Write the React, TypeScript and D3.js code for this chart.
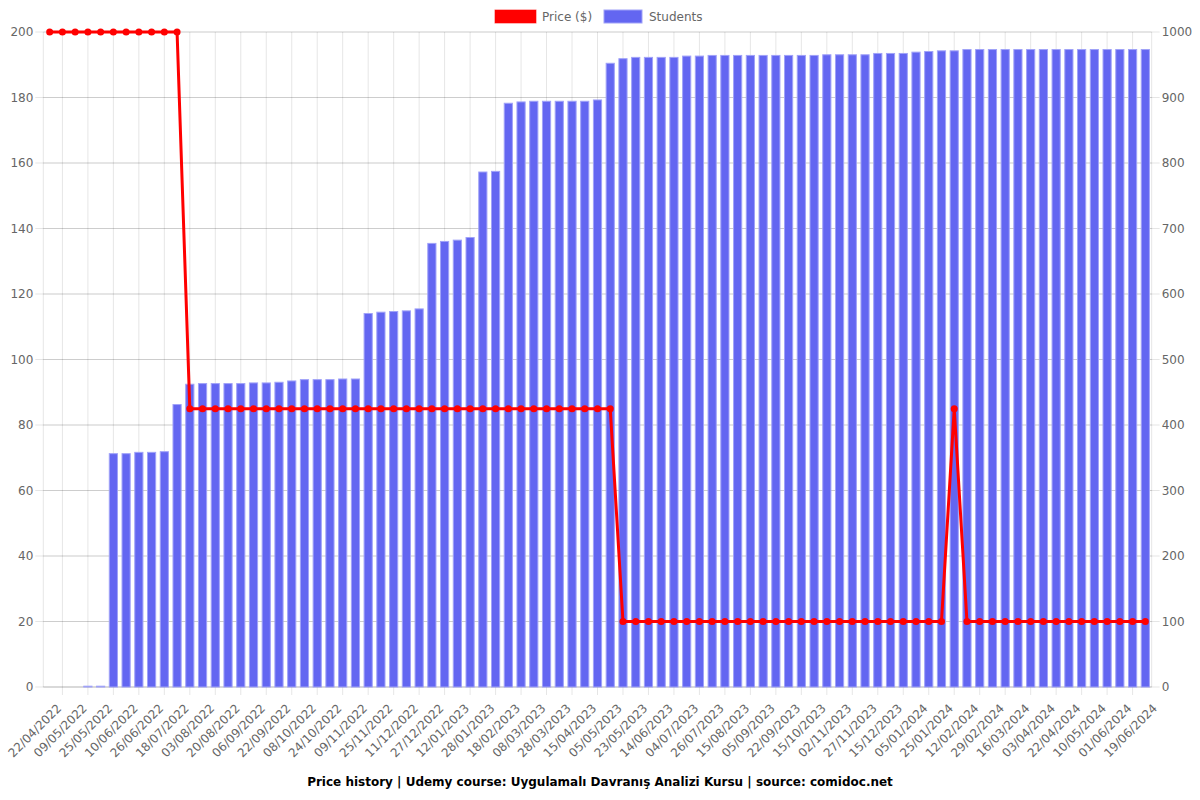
import React from "react";
import * as d3 from "d3";

const tickLabels = [
  "22/04/2022", "09/05/2022", "25/05/2022", "10/06/2022", "26/06/2022", "18/07/2022",
  "03/08/2022", "20/08/2022", "06/09/2022", "22/09/2022", "08/10/2022", "24/10/2022",
  "09/11/2022", "25/11/2022", "11/12/2022", "27/12/2022", "12/01/2023", "28/01/2023",
  "18/02/2023", "08/03/2023", "28/03/2023", "15/04/2023", "05/05/2023", "23/05/2023",
  "14/06/2023", "04/07/2023", "26/07/2023", "15/08/2023", "05/09/2023", "22/09/2023",
  "15/10/2023", "02/11/2023", "27/11/2023", "15/12/2023", "05/01/2024", "25/01/2024",
  "12/02/2024", "29/02/2024", "16/03/2024", "03/04/2024", "22/04/2024", "10/05/2024",
  "01/06/2024", "19/06/2024",
];

const students = [
  0, 0, 0, 2, 2, 357, 357, 359, 359, 360,
  432, 463, 464, 464, 464, 464, 465, 465, 466, 468,
  470, 470, 470, 471, 471, 571, 573, 574, 575, 578,
  678, 681, 683, 687, 787, 788, 892, 894, 895, 895,
  895, 895, 895, 897, 953, 960, 962, 962, 962, 962,
  964, 964, 965, 965, 965, 965, 965, 965, 965, 965,
  965, 966, 966, 966, 966, 968, 968, 968, 970, 971,
  972, 972, 974, 974, 974, 974, 974, 974, 974, 974,
  974, 974, 974, 974, 974, 974, 974,
];

const price = [
  200, 200, 200, 200, 200, 200, 200, 200, 200, 200,
  200, 85, 85, 85, 85, 85, 85, 85, 85, 85,
  85, 85, 85, 85, 85, 85, 85, 85, 85, 85,
  85, 85, 85, 85, 85, 85, 85, 85, 85, 85,
  85, 85, 85, 85, 85, 20, 20, 20, 20, 20,
  20, 20, 20, 20, 20, 20, 20, 20, 20, 20,
  20, 20, 20, 20, 20, 20, 20, 20, 20, 20,
  20, 85, 20, 20, 20, 20, 20, 20, 20, 20,
  20, 20, 20, 20, 20, 20, 20,
];

const priceTicks = [0, 20, 40, 60, 80, 100, 120, 140, 160, 180, 200];
const studentTicks = [0, 100, 200, 300, 400, 500, 600, 700, 800, 900, 1000];

const W = 1200;
const H = 800;
const left = 43.3;
const right = 1151.7;
const top = 32;
const bottom = 687;
const FONT = "'DejaVu Sans', sans-serif";
const GRID = "rgba(0,0,0,0.1)";
const TICKC = "#666";
const BAR = "#6366f1";

export default function App() {
  const idx = students.map((_, i) => i);
  const x = d3.scaleBand<number>().domain(idx).range([left, right]).paddingInner(0).paddingOuter(0);
  const bw = x.bandwidth();
  const cx = (i: number) => (x(i) as number) + bw / 2;
  const yP = d3.scaleLinear().domain([0, 200]).range([bottom, top]);
  const yS = d3.scaleLinear().domain([0, 1000]).range([bottom, top]);
  const line = d3
    .line<number>()
    .x((_, i) => cx(i))
    .y((d) => yP(d));

  const shown = tickLabels.map((_, k) => k * 2);
  const gridXs: number[] = [];
  for (let k = 1; k < shown.length; k++) {
    gridXs.push(cx(shown[k]) - (cx(shown[k]) - cx(shown[k - 1])) / 2);
  }

  const barW = bw * 0.72;

  return (
    <svg width={W} height={H} style={{ position: "absolute", left: 0, top: 0, background: "#fff" }}>
      {gridXs.map((gx, i) => (
        <line key={"vg" + i} x1={gx} x2={gx} y1={top} y2={bottom + 8} stroke={GRID} strokeWidth={1} />
      ))}
      {priceTicks.map((t) => (
        <line key={"hl" + t} x1={left - 8} x2={right} y1={yP(t)} y2={yP(t)} stroke={GRID} strokeWidth={1} />
      ))}
      {studentTicks.map((t) => (
        <line key={"hr" + t} x1={left} x2={right + 8} y1={yS(t)} y2={yS(t)} stroke={GRID} strokeWidth={1} />
      ))}
      <line x1={left} x2={left} y1={top} y2={bottom} stroke={GRID} />
      <line x1={right} x2={right} y1={top} y2={bottom} stroke={GRID} />
      <line x1={left} x2={right} y1={bottom} y2={bottom} stroke={GRID} />

      {students.map((v, i) =>
        v > 0 ? (
          <rect
            key={"b" + i}
            x={cx(i) - barW / 2 + 0.5}
            y={yS(v) + 0.5}
            width={barW - 1}
            height={Math.max(0.5, bottom - yS(v) - 0.5)}
            fill={BAR}
            stroke="rgba(160,162,248,1)"
            strokeWidth={1}
          />
        ) : null
      )}

      <path d={line(price) || ""} fill="none" stroke="#ff0000" strokeWidth={3} />
      {price.map((v, i) => (
        <circle key={"p" + i} cx={cx(i)} cy={yP(v)} r={3.5} fill="#ff0000" />
      ))}

      {priceTicks.map((t) => (
        <text key={"lt" + t} x={left - 10} y={yP(t)} dy="0.35em" textAnchor="end" fontFamily={FONT} fontSize={12} fill={TICKC}>
          {t}
        </text>
      ))}
      {studentTicks.map((t) => (
        <text key={"rt" + t} x={right + 10} y={yS(t)} dy="0.35em" textAnchor="start" fontFamily={FONT} fontSize={12} fill={TICKC}>
          {t}
        </text>
      ))}
      {shown.map((ci, k) => {
        const tx = cx(ci) + 12.5;
        const ty = 709;
        return (
          <text
            key={"xt" + k}
            x={tx}
            y={ty}
            transform={`rotate(-45 ${tx} ${ty})`}
            textAnchor="end"
            fontFamily={FONT}
            fontSize={12}
            fill={TICKC}
          >
            {tickLabels[k]}
          </text>
        );
      })}

      <rect x={495} y={10} width={41} height={13} fill="#ff0000" stroke="rgba(255,0,0,0.6)" strokeWidth={1} />
      <text x={542} y={20.5} fontFamily={FONT} fontSize={12} fill={TICKC}>
        Price ($)
      </text>
      <rect x={604} y={10} width={38} height={13} fill={BAR} stroke="rgba(160,162,248,1)" strokeWidth={1} />
      <text x={649} y={20.5} fontFamily={FONT} fontSize={12} fill={TICKC}>
        Students
      </text>

      <text x={600} y={786} textAnchor="middle" fontFamily={FONT} fontSize={12} fontWeight="bold" fill="#000">
        Price history | Udemy course: Uygulamalı Davranış Analizi Kursu | source: comidoc.net
      </text>
    </svg>
  );
}
